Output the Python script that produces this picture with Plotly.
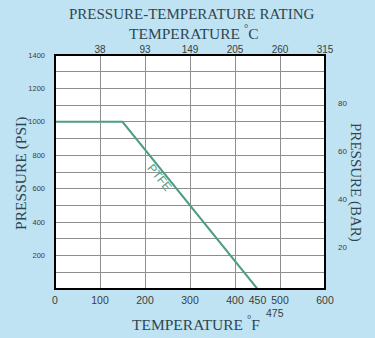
import plotly.graph_objects as go

# PTFE seat rating: pressure vs temperature
temp_f = [0, 150, 450]
pressure_psi = [1000, 1000, 0]

# axis tick labels
psi_ticks = [200, 400, 600, 800, 1000, 1200, 1400]
f_ticks = [0, 100, 200, 300, 400, 450, 500, 600]
c_tick_pos_f = [100, 200, 300, 400, 500, 600]
c_tick_text = ["38", "93", "149", "205", "260", "315"]
bar_ticks = [20, 40, 60, 80]

BG = "#bfe3f3"
LINE = "#4e9d86"
TITLE_COLOR = "#2e4650"
TICK_COLOR = "#3c3c3c"
GRID = "#8e8e8e"
SERIF = "Liberation Serif, Times New Roman, serif"
SANS = "Liberation Sans, Arial, sans-serif"

fig = go.Figure()

fig.add_trace(go.Scatter(
    x=temp_f, y=pressure_psi, mode="lines",
    line=dict(color=LINE, width=2),
    hoverinfo="skip", showlegend=False,
))

# empty traces that bring up the secondary axes
fig.add_trace(go.Scatter(x=[None], y=[None], xaxis="x2", yaxis="y", showlegend=False))
fig.add_trace(go.Scatter(x=[None], y=[None], xaxis="x", yaxis="y2", showlegend=False))

fig.update_layout(
    width=375, height=338,
    margin=dict(l=55, r=50, t=55, b=49),
    paper_bgcolor=BG,
    plot_bgcolor="white",
    xaxis=dict(
        range=[0, 600], tickvals=f_ticks,
        showgrid=False, zeroline=False, ticks="",
        tickfont=dict(family=SANS, size=10.5, color=TICK_COLOR),
        ticklabelstandoff=3,
    ),
    xaxis2=dict(
        range=[0, 600], overlaying="x", side="top",
        tickvals=c_tick_pos_f, ticktext=c_tick_text,
        showgrid=True, gridcolor=GRID, gridwidth=1,
        zeroline=False, ticks="",
        tickfont=dict(family=SANS, size=10, color=TICK_COLOR),
        ticklabelstandoff=-1,
    ),
    yaxis=dict(
        range=[0, 1400], tickvals=psi_ticks,
        showgrid=True, gridcolor=GRID, gridwidth=1,
        minor=dict(dtick=100, showgrid=True, gridcolor=GRID, gridwidth=1, tick0=0),
        zeroline=False, ticks="",
        tickfont=dict(family=SANS, size=7.5, color=TICK_COLOR),
        ticklabelstandoff=9,
    ),
    yaxis2=dict(
        range=[2.5, 100], overlaying="y", side="right",
        tickvals=bar_ticks, showgrid=False, zeroline=False, ticks="",
        tickfont=dict(family=SANS, size=8, color=TICK_COLOR),
        ticklabelstandoff=12,
    ),
    shapes=[dict(
        type="rect", xref="paper", yref="paper", x0=0, x1=1, y0=0, y1=1,
        line=dict(color="black", width=2), layer="above",
    )],
)

annotations = [
    dict(text="PRESSURE-TEMPERATURE RATING", x=0.5056, y=1.175,
         font=dict(family=SERIF, size=15, color=TITLE_COLOR)),
    dict(text="TEMPERATURE <sup>°</sup>C", x=0.515, y=1.10,
         font=dict(family=SERIF, size=15.5, color=TITLE_COLOR)),
    dict(text="TEMPERATURE <sup>°</sup>F", x=0.522, y=-0.145,
         font=dict(family=SERIF, size=15.5, color=TITLE_COLOR)),
    dict(text="PRESSURE (PSI)", x=-0.126, y=0.496, textangle=-90,
         font=dict(family=SERIF, size=15.5, color=TITLE_COLOR)),
    dict(text="PRESSURE (BAR)", x=1.111, y=0.453, textangle=90,
         font=dict(family=SERIF, size=15, color=TITLE_COLOR)),
]
for a in annotations:
    fig.add_annotation(xref="paper", yref="paper", showarrow=False,
                       xanchor="center", yanchor="middle", **a)

fig.add_annotation(text="475", xref="x", yref="paper", x=475, y=-0.103,
                   xshift=6, showarrow=False, xanchor="center", yanchor="middle",
                   font=dict(family=SANS, size=10.5, color=TICK_COLOR))

fig.add_annotation(text="PTFE", xref="x", yref="y", x=233, y=664,
                   textangle=51, showarrow=False,
                   font=dict(family=SANS, size=12, color=LINE))

fig.write_html("out.html")
